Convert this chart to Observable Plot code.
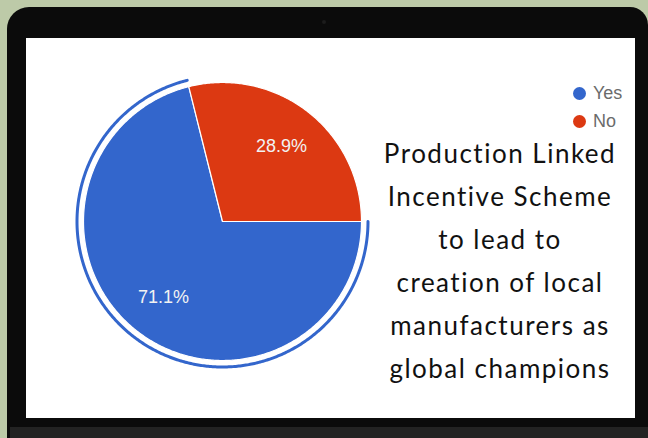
<!DOCTYPE html>
<html>
<head>
<meta charset="utf-8">
<script src="https://cdn.jsdelivr.net/npm/d3@7"></script>
<script src="https://cdn.jsdelivr.net/npm/@observablehq/plot@0.6"></script>
<style>
  html, body { margin: 0; padding: 0; }
  body { width: 648px; height: 438px; background: #bdcaa8; position: relative; overflow: hidden; }
  #bezel { position: absolute; left: 7px; top: 7px; width: 641px; height: 431px; background: #0b0b0b; border-radius: 22px 18px 0 0; }
  #band { position: absolute; left: 10px; top: 427px; width: 638px; height: 11px; background: #232323; }
  #cam { position: absolute; left: 322px; top: 20px; width: 4px; height: 4px; border-radius: 50%; background: #1c1c1c; }
  #screen { position: absolute; left: 26px; top: 38px; width: 609px; height: 380px; background: #fff; overflow: hidden; }
  #legend { position: absolute; left: 573px; top: 79px; font-family: Arial, "Liberation Sans", sans-serif; font-size: 18px; color: #6b6b6b; }
  .li { height: 28px; display: flex; align-items: center; }
  .sw { width: 13px; height: 13px; border-radius: 50%; margin-right: 7px; }
  #title { position: absolute; left: 360px; top: 132px; width: 280px; text-align: center; font-family: Lato, "Open Sans", sans-serif; font-size: 26px; letter-spacing: 1.5px; font-variant-ligatures: none; font-feature-settings: "liga" 0; color: #111; }
  #title div { height: 43px; line-height: 43px; white-space: nowrap; }
</style>
</head>
<body>
<div id="bezel"></div>
<div id="band"></div>
<div id="cam"></div>
<div id="screen"></div>
<div id="legend"></div>
<div id="title"></div>
<script>
// ---- data ----
const categories = ["Yes", "No"];
const values = [71.1, 28.9];
const colors = ["#3366cc", "#dc3912"];
const labels = ["71.1%", "28.9%"];
const titleLines = [
  "Production Linked",
  "Incentive Scheme",
  "to lead to",
  "creation of local",
  "manufacturers as",
  "global champions"
];

// ---- layout ----
const W = 609, H = 380;
const cx = 196, cy = 183, R = 139;
const ringR = 145.5, labelR = 96;

const arcs = d3.pie().sort(null).startAngle(Math.PI / 2).endAngle(Math.PI / 2 + 2 * Math.PI)(values);
const pt = (a, r) => [cx + r * Math.sin(a), cy - r * Math.cos(a)];

const wedgePts = [];
arcs.forEach((d, i) => {
  const n = Math.max(8, Math.ceil((d.endAngle - d.startAngle) / 0.01));
  wedgePts.push({cat: categories[i], x: cx, y: cy});
  for (let k = 0; k <= n; k++) {
    const a = d.startAngle + (d.endAngle - d.startAngle) * k / n;
    const [x, y] = pt(a, R);
    wedgePts.push({cat: categories[i], x, y});
  }
  wedgePts.push({cat: categories[i], x: cx, y: cy});
});

const ringPts = [];
{
  const d = arcs[0];
  const n = Math.ceil((d.endAngle - d.startAngle) / 0.01);
  for (let k = 0; k <= n; k++) {
    const a = d.startAngle + (d.endAngle - d.startAngle) * k / n;
    const [x, y] = pt(a, ringR);
    ringPts.push({x, y});
  }
}

const labelPts = arcs.map((d, i) => {
  const a = (d.startAngle + d.endAngle) / 2;
  const [x, y] = pt(a, labelR);
  return {x, y, text: labels[i]};
});

const chart = Plot.plot({
  width: W,
  height: H,
  margin: 0,
  x: {domain: [0, W], range: [0, W], axis: null},
  y: {domain: [0, H], range: [0, H], axis: null},
  color: {domain: categories, range: colors},
  marks: [
    Plot.line(wedgePts, {x: "x", y: "y", z: "cat", fill: "cat", stroke: "#fff", strokeWidth: 1.2, curve: "linear"}),
    Plot.line(ringPts, {x: "x", y: "y", stroke: colors[0], strokeWidth: 3, fill: "none"}),
    Plot.text(labelPts, {x: "x", y: "y", text: "text", fill: "#f2f2f2", fontSize: 18, fontFamily: "Arial, 'Liberation Sans', sans-serif"})
  ]
});
chart.style.background = "#fff";
document.getElementById("screen").appendChild(chart);

const legend = document.getElementById("legend");
categories.forEach((c, i) => {
  const row = document.createElement("div");
  row.className = "li";
  row.innerHTML = `<span class="sw" style="background:${colors[i]}"></span><span>${c}</span>`;
  legend.appendChild(row);
});

const title = document.getElementById("title");
titleLines.forEach(t => {
  const div = document.createElement("div");
  div.textContent = t;
  title.appendChild(div);
});
</script>
</body>
</html>
